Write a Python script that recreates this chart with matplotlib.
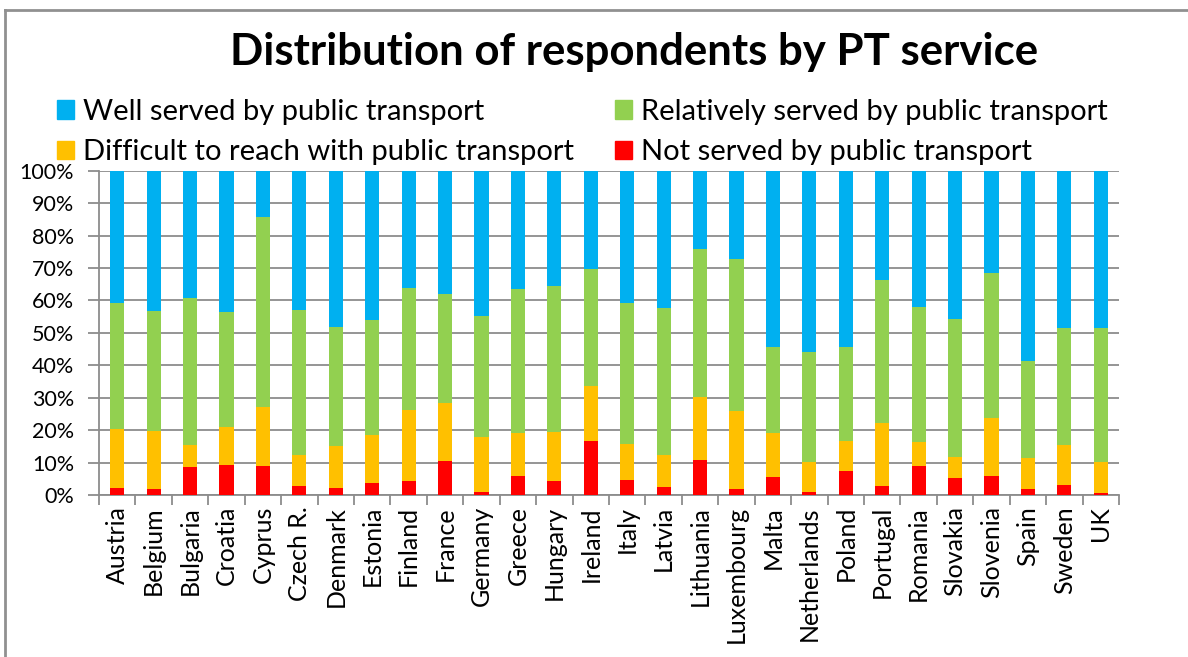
"""Distribution of respondents by PT service - stacked 100% bar chart."""
import matplotlib
matplotlib.use("Agg")
import matplotlib.pyplot as plt
import numpy as np
from matplotlib.lines import Line2D
from matplotlib.patches import Patch
from matplotlib.ticker import FuncFormatter, FixedLocator

plt.rcParams["font.family"] = ["Lato", "DejaVu Sans"]

countries = [
    "Austria", "Belgium", "Bulgaria", "Croatia", "Cyprus", "Czech R.", "Denmark",
    "Estonia", "Finland", "France", "Germany", "Greece", "Hungary", "Ireland",
    "Italy", "Latvia", "Lithuania", "Luxembourg", "Malta", "Netherlands", "Poland",
    "Portugal", "Romania", "Slovakia", "Slovenia", "Spain", "Sweden", "UK",
]

# shares in percent
not_served = [2.1, 2.0, 8.7, 9.4, 9.0, 2.9, 2.3, 3.8, 4.4, 10.6, 1.0, 6.0, 4.4, 16.5,
              4.7, 2.6, 10.9, 2.0, 5.7, 1.0, 7.5, 2.9, 9.0, 5.3, 6.0, 1.8, 3.2, 0.5]
difficult = [18.2, 17.7, 6.7, 11.6, 18.1, 9.4, 12.8, 14.8, 21.7, 17.9, 16.9, 13.0, 14.9, 17.0,
             10.9, 9.6, 19.3, 24.0, 13.4, 9.1, 9.3, 19.2, 7.3, 6.4, 17.8, 9.7, 12.2, 9.7]
relatively = [38.8, 37.0, 45.2, 35.5, 58.6, 44.8, 36.6, 35.4, 37.7, 33.5, 37.3, 44.5, 45.0, 36.3,
              43.5, 45.6, 45.6, 46.8, 26.5, 33.9, 28.8, 44.2, 41.7, 42.6, 44.7, 29.8, 36.0, 41.2]
well = [40.9, 43.3, 39.4, 43.5, 14.3, 42.9, 48.3, 46.0, 36.2, 38.0, 44.8, 36.5, 35.7, 30.2,
        40.9, 42.2, 24.2, 27.2, 54.4, 56.0, 54.4, 33.7, 42.0, 45.7, 31.5, 58.7, 48.6, 48.6]

series = [
    ("Not served by public transport", not_served, "#FF0000"),
    ("Difficult to reach with public transport", difficult, "#FFC000"),
    ("Relatively served by public transport", relatively, "#92D050"),
    ("Well served by public transport", well, "#00B0F0"),
]

fig = plt.figure(figsize=(11.88, 6.57), dpi=100)
ax = fig.add_axes([99 / 1188, 1 - 495 / 657, 1020 / 1188, 324.3 / 657])

x = np.arange(len(countries))
bottom = np.zeros(len(countries))
for label, vals, color in series:
    vals = np.array(vals) / 100
    ax.bar(x, vals, width=0.39, bottom=bottom, color=color, label=label, zorder=3)
    bottom += vals

ax.set_xlim(-0.5, len(countries) - 0.5)
ax.set_ylim(0, 1)
ax.set_yticks(np.arange(0, 1.01, 0.1))
ax.yaxis.set_major_formatter(FuncFormatter(lambda v, _: f"{v * 100:.0f}%"))
ax.grid(axis="y", color="#8c8c8c", linewidth=1.3, zorder=0)

ax.set_xticks(x)
ax.set_xticklabels(countries, rotation=90, fontsize=18)
ax.tick_params(axis="x", which="major", length=0, pad=8)
ax.xaxis.set_minor_locator(FixedLocator(np.arange(-0.5, len(countries), 1.0)))
ax.tick_params(axis="x", which="minor", length=7, width=1.3, color="#8c8c8c")
ax.tick_params(axis="y", length=8, width=1.3, color="#8c8c8c", labelsize=15.5, pad=10)

for side in ("top", "right"):
    ax.spines[side].set_visible(False)
for side in ("left", "bottom"):
    ax.spines[side].set_color("#8c8c8c")
    ax.spines[side].set_linewidth(1.3)

fig.text(634 / 1188, 1 - 52 / 657, "Distribution of respondents by PT service",
         ha="center", va="center", fontsize=31.5, fontweight="bold")

handles = [Patch(color=c) for _, _, c in series]
labels = [s[0] for s in series]
order = [3, 1, 2, 0]
fig.legend([handles[i] for i in order], [labels[i] for i in order],
           loc="upper left", bbox_to_anchor=(42 / 1188, 1 - 84 / 657), ncol=2,
           frameon=False, fontsize=21, handlelength=0.6, handleheight=0.6,
           handletextpad=0.3, columnspacing=1.4, labelspacing=0.5, borderpad=0)

# chart-area frame (top and left edges visible)
fig.add_artist(Line2D([5 / 1188, 1], [1 - 10 / 657] * 2, color="#909090", linewidth=2))
fig.add_artist(Line2D([5 / 1188] * 2, [0, 1 - 10 / 657], color="#909090", linewidth=2))

fig.savefig("out.png", dpi=100)
